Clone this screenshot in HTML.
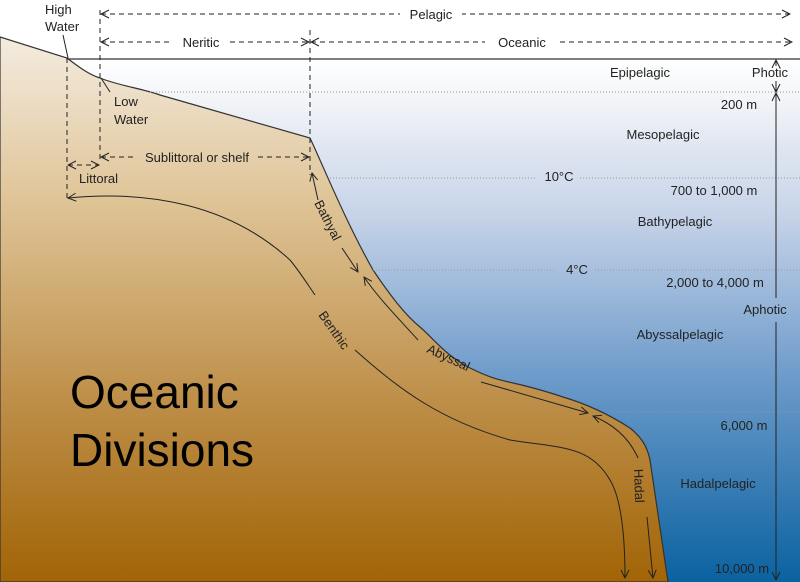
<!DOCTYPE html>
<html><head><style>body{margin:0}svg{display:block}text{font-family:"Liberation Sans",sans-serif;fill:#222}</style></head><body>
<svg width="800" height="582" viewBox="0 0 800 582" xmlns="http://www.w3.org/2000/svg">
<defs>
<linearGradient id="w" x1="0" y1="0" x2="0" y2="1"><stop offset="0" stop-color="#ffffff"/><stop offset="0.08" stop-color="#f2f4f8"/><stop offset="0.3" stop-color="#c6d3e8"/><stop offset="0.6" stop-color="#6f9ccb"/><stop offset="1" stop-color="#0a62a0"/></linearGradient>
<linearGradient id="l" x1="0" y1="0" x2="0" y2="1"><stop offset="0" stop-color="#f4ece0"/><stop offset="0.3" stop-color="#dfc497"/><stop offset="0.65" stop-color="#bf914c"/><stop offset="1" stop-color="#a26406"/></linearGradient>
<marker id="a" markerWidth="10" markerHeight="10" refX="9" refY="5" orient="auto-start-reverse" markerUnits="userSpaceOnUse"><path d="M1,1 L9,5 L1,9" fill="none" stroke="#222" stroke-width="1"/></marker>
</defs>
<rect width="800" height="582" fill="#fff"/>
<rect x="0" y="59" width="800" height="523" fill="url(#w)"/>
<path d="M0,37 L67,58 C80,68 90,75 100,78 C120,86 140,88 160,95 L310,138 C325,170 345,220 373,270 C390,295 405,315 420,327 C435,340 445,355 470,368 C490,378 500,380 513,383 C540,389 563,397 563,397 C590,405 613,417 630,428 C640,436 647,445 650,460 L668,582 L0,582 Z" fill="url(#l)" stroke="#333" stroke-width="1.2"/>
<line x1="67" y1="59" x2="800" y2="59" stroke="#333" stroke-width="1.2"/>
<g stroke="#999" stroke-dasharray="1,2" stroke-width="1">
<line x1="150" y1="92" x2="800" y2="92"/><line x1="330" y1="178" x2="535" y2="178"/><line x1="580" y1="178" x2="800" y2="178"/>
<line x1="373" y1="270" x2="555" y2="270"/><line x1="595" y1="270" x2="800" y2="270"/><line x1="613" y1="412" x2="800" y2="412"/></g>
<g stroke="#222" stroke-width="1" fill="none" stroke-dasharray="5,4">
<line x1="100" y1="10" x2="100" y2="160"/><line x1="310" y1="30" x2="310" y2="175"/><line x1="67" y1="58" x2="67" y2="200"/>
<line x1="101" y1="14" x2="790" y2="14" marker-start="url(#a)" marker-end="url(#a)"/>
<line x1="101" y1="42" x2="172" y2="42" marker-start="url(#a)"/><line x1="230" y1="42" x2="309" y2="42" marker-end="url(#a)"/>
<line x1="311" y1="42" x2="485" y2="42" marker-start="url(#a)"/><line x1="560" y1="42" x2="792" y2="42" marker-end="url(#a)"/>
<line x1="101" y1="157" x2="135" y2="157" marker-start="url(#a)"/><line x1="258" y1="157" x2="309" y2="157" marker-end="url(#a)"/>
<line x1="68" y1="165" x2="99" y2="165" marker-start="url(#a)" marker-end="url(#a)"/>
</g>
<g stroke="#fff" stroke-width="8"><line x1="400" y1="14" x2="462" y2="14"/></g>
<text x="431" y="19" font-size="13" text-anchor="middle">Pelagic</text>
<text x="201" y="47" font-size="13" text-anchor="middle">Neritic</text>
<text x="522" y="47" font-size="13" text-anchor="middle">Oceanic</text>
<text x="197" y="162" font-size="13" text-anchor="middle">Sublittoral or shelf</text>
<text x="79" y="183" font-size="13">Littoral</text>
<text x="45" y="14" font-size="13">High</text><text x="45" y="31" font-size="13">Water</text>
<text x="114" y="106" font-size="13">Low</text><text x="114" y="124" font-size="13">Water</text>
<g stroke="#222" fill="none" stroke-width="1">
<line x1="63" y1="35" x2="68" y2="58"/><line x1="101" y1="78" x2="110" y2="92"/>
<line x1="776" y1="60" x2="776" y2="66" marker-start="url(#a)"/><line x1="776" y1="81" x2="776" y2="92" marker-end="url(#a)"/>
<line x1="776" y1="93" x2="776" y2="298" marker-start="url(#a)"/><line x1="776" y1="322" x2="776" y2="580" marker-end="url(#a)"/>
<path d="M68,198 C150,190 230,205 290,260 C300,272 308,285 315,295" marker-start="url(#a)"/>
<path d="M355,350 C400,390 440,420 510,440 C560,448 590,445 610,480 C622,500 625,540 625,578" marker-end="url(#a)"/>
<path d="M318,200 L312,173" marker-end="url(#a)"/>
<path d="M342,248 L358,272" marker-end="url(#a)"/>
<path d="M418,340 C400,320 380,300 364,277" marker-end="url(#a)"/>
<path d="M481,382 C520,393 560,405 588,413" marker-end="url(#a)"/>
<path d="M638,458 C630,440 615,425 593,416" marker-end="url(#a)"/>
<path d="M647,517 L653,578" marker-end="url(#a)"/>
</g>
<g font-size="13">
<text transform="translate(314,203) rotate(63)">Bathyal</text>
<text transform="translate(318,315) rotate(55)">Benthic</text>
<text transform="translate(426,352) rotate(25)">Abyssal</text>
<text transform="translate(634,469) rotate(88)">Hadal</text>
</g>
<g font-size="13" text-anchor="middle">
<text x="640" y="77">Epipelagic</text><text x="770" y="77">Photic</text>
<text x="739" y="109">200 m</text><text x="663" y="139">Mesopelagic</text>
<text x="559" y="181">10°C</text><text x="714" y="195">700 to 1,000 m</text>
<text x="675" y="226">Bathypelagic</text><text x="577" y="274">4°C</text>
<text x="715" y="287">2,000 to 4,000 m</text><text x="765" y="314">Aphotic</text>
<text x="680" y="339">Abyssalpelagic</text><text x="744" y="430">6,000 m</text>
<text x="718" y="488">Hadalpelagic</text><text x="742" y="573">10,000 m</text>
</g>
<text x="70" y="408" font-size="46" style="fill:#000">Oceanic</text>
<text x="70" y="466" font-size="46" style="fill:#000">Divisions</text>
</svg>
</body></html>
